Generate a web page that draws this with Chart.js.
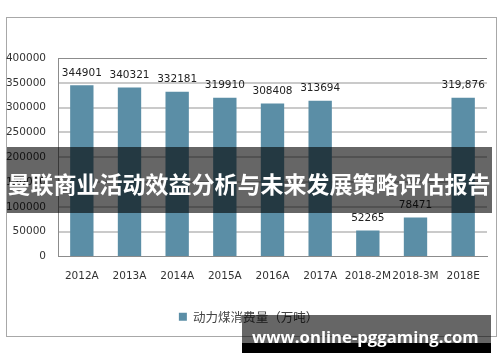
<!DOCTYPE html>
<html>
<head>
<meta charset="utf-8">
<script src="https://cdn.jsdelivr.net/npm/chart.js@4/dist/chart.umd.min.js"></script>
<style>
  html, body { margin: 0; padding: 0; background: #fff; }
  canvas { display: block; }
</style>
</head>
<body>
<canvas id="c" width="500" height="362"></canvas>
<script>
// data
const categories = ['2012A', '2013A', '2014A', '2015A', '2016A', '2017A', '2018-2M', '2018-3M', '2018E'];
const consumption = [344901, 340321, 332181, 319910, 308408, 313694, 52265, 78471, 319876];
const valueLabels = ['344901', '340321', '332181', '319910', '308408', '313694', '52265', '78471', '319,876'];
const seriesName = '动力煤消费量（万吨）';
const yTicks = [0, 50000, 100000, 150000, 200000, 250000, 300000, 350000, 400000];
const bannerText = '曼联商业活动效益分析与未来发展策略评估报告';
const watermark = 'www.online-pggaming.com';

const barColor = '#5b8ea6';
const latin = '"DejaVu Sans", "Noto Sans CJK SC", sans-serif';

// outer frame, bar value labels, dark banner and watermark
const decor = {
  id: 'decor',
  afterLayout(chart) {
    // legend sits a little right of the plot centre
    chart.legend.left += 5;
    chart.legend.right += 5;
  },
  beforeDraw(chart) {
    const ctx = chart.ctx;
    ctx.save();
    ctx.strokeStyle = '#a8a8a8';
    ctx.lineWidth = 1;
    ctx.strokeRect(6.5, 17.5, 490, 319);
    ctx.restore();
  },
  afterDatasetsDraw(chart) {
    const ctx = chart.ctx;
    const meta = chart.getDatasetMeta(0);
    ctx.save();
    ctx.font = '10.5px ' + latin;
    ctx.fillStyle = '#222';
    ctx.textAlign = 'center';
    ctx.textBaseline = 'middle';
    meta.data.forEach((bar, i) => {
      ctx.fillText(valueLabels[i], bar.x, bar.y - 12.5);
    });
    ctx.restore();
  },
  afterDraw(chart) {
    const ctx = chart.ctx;
    ctx.save();
    // banner across the middle
    ctx.fillStyle = 'rgba(0,0,0,0.6)';
    ctx.fillRect(7, 147, 485, 66);
    ctx.fillStyle = '#fff';
    ctx.textAlign = 'center';
    ctx.textBaseline = 'middle';
    ctx.font = 'bold 22px "Noto Sans CJK SC", sans-serif';
    let w = ctx.measureText(bannerText).width;
    const bannerSize = 22 * 482 / w;
    ctx.font = 'bold ' + bannerSize.toFixed(1) + 'px "Noto Sans CJK SC", sans-serif';
    ctx.fillText(bannerText, 249, 184);

    // watermark box
    ctx.fillStyle = 'rgba(0,0,0,0.6)';
    ctx.fillRect(242, 315, 249, 28);
    ctx.fillStyle = '#000';
    ctx.fillRect(242, 343, 249, 10);
    ctx.fillStyle = '#fff';
    ctx.font = 'bold 18px "Open Sans", sans-serif';
    w = ctx.measureText(watermark).width;
    const wmSize = 18 * 227 / w;
    ctx.font = 'bold ' + wmSize.toFixed(1) + 'px "Open Sans", sans-serif';
    ctx.textAlign = 'left';
    ctx.textBaseline = 'alphabetic';
    ctx.fillText(watermark, 252, 343);
    ctx.restore();
  }
};

new Chart(document.getElementById('c'), {
  type: 'bar',
  data: {
    labels: categories,
    datasets: [{
      label: seriesName,
      data: consumption,
      backgroundColor: barColor,
      borderWidth: 0,
      categoryPercentage: 1,
      barPercentage: 0.49
    }]
  },
  options: {
    responsive: false,
    animation: false,
    layout: { padding: { top: 58, left: 0, right: 13, bottom: 29 } },
    scales: {
      x: {
        afterFit(scale) { scale.height = 44; },
        grid: { display: false },
        border: { color: '#8c8c8c', width: 1 },
        ticks: {
          padding: 5,
          maxRotation: 0,
          autoSkip: false,
          color: '#333',
          font: { family: latin, size: 10.5 }
        }
      },
      y: {
        min: 0,
        max: 400000,
        afterFit(scale) { scale.width = 58; },
        afterBuildTicks(scale) { scale.ticks = yTicks.map(v => ({ value: v })); },
        grid: {
          drawTicks: false,
          color: ctx => (ctx.tick.value === 400000 ? '#8c8c8c' : '#cacaca'),
          lineWidth: ctx => (ctx.tick.value === 400000 || ctx.tick.value === 0 ? 1 : 2)
        },
        border: { color: '#8c8c8c', width: 1 },
        ticks: {
          padding: 12,
          color: '#333',
          font: { family: latin, size: 10.5 },
          callback: v => String(v)
        }
      }
    },
    plugins: {
      legend: {
        position: 'bottom',
        labels: {
          boxWidth: 8,
          boxHeight: 8,
          padding: 10,
          color: '#444',
          font: { family: '"Noto Sans CJK SC", sans-serif', size: 12.5 }
        }
      },
      tooltip: { enabled: false }
    }
  },
  plugins: [decor]
});
</script>
</body>
</html>
